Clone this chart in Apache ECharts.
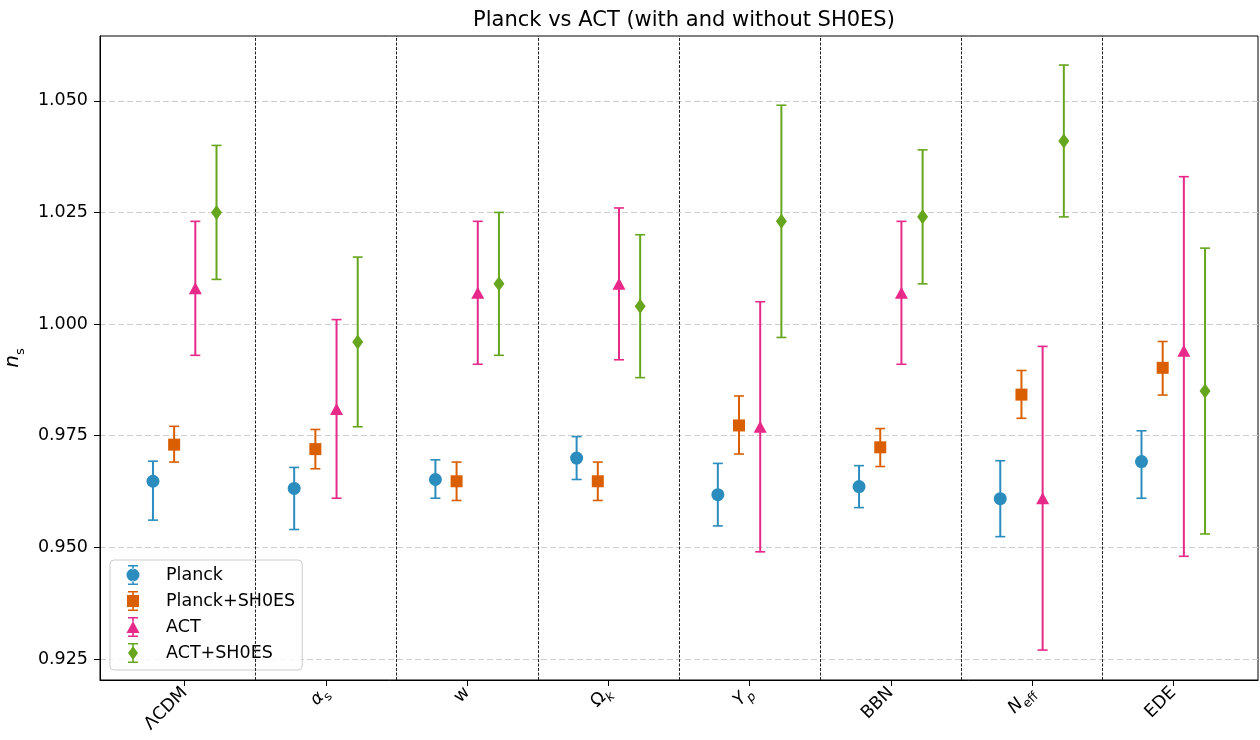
<!DOCTYPE html>
<html>
<head>
<meta charset="utf-8">
<script src="https://cdn.jsdelivr.net/npm/echarts@6/dist/echarts.min.js"></script>
<style>
  html, body { margin: 0; padding: 0; background: #fff; }
  #plot { width: 1260px; height: 740px; }
</style>
</head>
<body>
<div id="plot"></div>
<script>
"use strict";

// Categories (models) and their axis label markup.
var categories = ['ΛCDM', 'α_s', 'w', 'Ω_k', 'Y_p', 'BBN', 'N_eff', 'EDE'];
var tickLabels = ['{t|ΛCDM}', '{it|α}{sub|s}', '{t|w}', '{t|Ω}{subi|k}',
                  '{it|Y}{subi|p}', '{t|BBN}', '{it|N}{sub|eff}', '{t|EDE}'];
var yTicks = [0.925, 0.950, 0.975, 1.000, 1.025, 1.050];

// n_s values with lower / upper error bar ends.
var planckVal = [0.9648, 0.9632, 0.9652, 0.9700, 0.9618, 0.9636, 0.9609, 0.9692];
var planckLo  = [0.9561, 0.9540, 0.9610, 0.9652, 0.9548, 0.9589, 0.9524, 0.9610];
var planckHi  = [0.9693, 0.9679, 0.9696, 0.9748, 0.9688, 0.9683, 0.9694, 0.9761];

var planckShoesVal = [0.9730, 0.9720, 0.9648, 0.9648, 0.9773, 0.9724, 0.9842, 0.9902];
var planckShoesLo  = [0.9691, 0.9676, 0.9605, 0.9605, 0.9709, 0.9681, 0.9789, 0.9841];
var planckShoesHi  = [0.9771, 0.9764, 0.9691, 0.9691, 0.9839, 0.9766, 0.9896, 0.9961];

var actVal = [1.008, 0.981, 1.007, 1.009, 0.977, 1.007, 0.961, 0.994];
var actLo  = [0.993, 0.961, 0.991, 0.992, 0.949, 0.991, 0.927, 0.948];
var actHi  = [1.023, 1.001, 1.023, 1.026, 1.005, 1.023, 0.995, 1.033];

var actShoesVal = [1.025, 0.996, 1.009, 1.004, 1.023, 1.024, 1.041, 0.985];
var actShoesLo  = [1.010, 0.977, 0.993, 0.988, 0.997, 1.009, 1.024, 0.953];
var actShoesHi  = [1.040, 1.015, 1.025, 1.020, 1.049, 1.039, 1.058, 1.017];

// Legend handles: error bar with caps plus the marker, drawn in a 34x20 box
// (two tiny dots pin the box so the handle sits left of centre).
var capsAndBar = 'M8,0h10v1.6h-10zM8,18.4h10v1.6h-10zM12.2,0h1.6v4.5h-1.6zM12.2,15.5h1.6v4.5h-1.6z';
var pins = 'M0,10h0.05v0.05h-0.05zM33.95,10h0.05v0.05h-0.05z';

var groups = [
  { name: 'Planck', val: planckVal, lo: planckLo, hi: planckHi, color: '#2b8cbe',
    symbol: 'circle', size: 13, offset: -0.225,
    icon: 'path://' + capsAndBar + 'M6.5,10a6.5,6.5 0 1,0 13,0a6.5,6.5 0 1,0 -13,0z' + pins },
  { name: 'Planck+SH0ES', val: planckShoesVal, lo: planckShoesLo, hi: planckShoesHi, color: '#d95f02',
    symbol: 'rect', size: 12, offset: -0.075,
    icon: 'path://' + capsAndBar + 'M7,4h12v12h-12z' + pins },
  { name: 'ACT', val: actVal, lo: actLo, hi: actHi, color: '#e7298a',
    symbol: 'triangle', size: [13, 12], offset: 0.075,
    icon: 'path://' + capsAndBar + 'M13,4L19.5,16L6.5,16z' + pins },
  { name: 'ACT+SH0ES', val: actShoesVal, lo: actShoesLo, hi: actShoesHi, color: '#66a61e',
    symbol: 'diamond', size: [11, 15], offset: 0.225,
    icon: 'path://' + capsAndBar + 'M13,3L18,10L13,17L8,10z' + pins }
];

var fontFamily = 'DejaVu Sans';
var chart = echarts.init(document.getElementById('plot'), null, { renderer: 'canvas' });

function errorBarRenderer(color) {
  return function (params, api) {
    var top = api.coord([api.value(0), api.value(2)]);
    var bottom = api.coord([api.value(0), api.value(1)]);
    var x = top[0];
    var cap = 5;
    return {
      type: 'group',
      children: [
        { type: 'line', shape: { x1: x, y1: top[1], x2: x, y2: bottom[1] }, style: { stroke: color, lineWidth: 2 } },
        { type: 'line', shape: { x1: x - cap, y1: top[1], x2: x + cap, y2: top[1] }, style: { stroke: color, lineWidth: 1.6 } },
        { type: 'line', shape: { x1: x - cap, y1: bottom[1], x2: x + cap, y2: bottom[1] }, style: { stroke: color, lineWidth: 1.6 } }
      ]
    };
  };
}

var series = [];
groups.forEach(function (g, gi) {
  var barData = g.val.map(function (v, i) { return [i + g.offset, g.lo[i], g.hi[i]]; });
  var pointData = g.val.map(function (v, i) { return [i + g.offset, v]; });
  var bars = {
    name: g.name,
    type: 'custom',
    renderItem: errorBarRenderer(g.color),
    itemStyle: { color: g.color },
    encode: { x: 0, y: [1, 2] },
    data: barData,
    z: 3,
    silent: true
  };
  if (gi === 0) {
    // dotted separators between the model groups
    bars.markLine = {
      symbol: 'none',
      silent: true,
      label: { show: false },
      lineStyle: { color: '#222', type: [3, 1.5], width: 1 },
      data: categories.slice(1).map(function (c, i) { return { xAxis: i + 0.5 }; })
    };
  }
  series.push(bars);
  series.push({
    name: g.name,
    type: 'scatter',
    symbol: g.symbol,
    symbolSize: g.size,
    itemStyle: { color: g.color, opacity: 1 },
    data: pointData,
    z: 4,
    silent: true
  });
});

var subStyle = { fontSize: 12.5, fontFamily: fontFamily, color: '#000', verticalAlign: 'bottom', lineHeight: 26 };

var option = {
  animation: false,
  backgroundColor: '#fff',
  textStyle: { fontFamily: fontFamily },
  title: {
    text: 'Planck vs ACT (with and without SH0ES)',
    left: 679,
    textAlign: 'center',
    top: 5,
    textStyle: { fontSize: 21, fontWeight: 'normal', color: '#000', fontFamily: fontFamily }
  },
  legend: {
    orient: 'vertical',
    left: 110,
    top: 560,
    padding: [5, 7, 7, 10],
    itemWidth: 34,
    itemHeight: 20,
    itemGap: 6,
    backgroundColor: 'rgba(255,255,255,0.8)',
    borderColor: '#cccccc',
    borderWidth: 1,
    borderRadius: 4,
    textStyle: { fontSize: 17.5, color: '#000', fontFamily: fontFamily, padding: [0, 0, 0, 7] },
    data: groups.map(function (g) {
      return { name: g.name, icon: g.icon, itemStyle: { color: g.color } };
    })
  },
  grid: {
    left: 100, right: 2, top: 36, bottom: 60,
    show: true, borderColor: '#000', borderWidth: 1,
    outerBoundsMode: 'none'
  },
  xAxis: {
    type: 'value',
    min: -0.6,
    max: 7.6,
    axisLine: { show: true, onZero: false, lineStyle: { color: '#000', width: 1 } },
    axisTick: { show: true, length: 6, lineStyle: { color: '#000' }, customValues: categories.map(function (c, i) { return i; }) },
    splitLine: { show: false },
    axisLabel: {
      customValues: categories.map(function (c, i) { return i; }),
      rotate: 45,
      margin: 10,
      color: '#000',
      fontSize: 17.5,
      fontFamily: fontFamily,
      formatter: function (v) { return tickLabels[Math.round(v)]; },
      rich: {
        t: { fontSize: 17.5, fontFamily: fontFamily, color: '#000' },
        it: { fontSize: 17.5, fontFamily: fontFamily, fontStyle: 'italic', color: '#000' },
        sub: subStyle,
        subi: Object.assign({}, subStyle, { fontStyle: 'italic' })
      }
    }
  },
  yAxis: {
    type: 'value',
    min: 0.9203,
    max: 1.0645,
    name: '{n|n}{s|s}',
    nameLocation: 'middle',
    nameGap: 72,
    nameTextStyle: {
      rich: {
        n: { fontSize: 20, fontStyle: 'italic', fontFamily: fontFamily, color: '#000' },
        s: { fontSize: 13, fontFamily: fontFamily, color: '#000', verticalAlign: 'bottom', lineHeight: 28 }
      }
    },
    axisLine: { show: true, onZero: false, lineStyle: { color: '#000', width: 1 } },
    axisTick: { show: true, length: 6, lineStyle: { color: '#000' }, customValues: yTicks },
    splitLine: { show: true, lineStyle: { color: '#cccccc', type: [6, 3], width: 1 } },
    axisLabel: {
      customValues: yTicks,
      margin: 12,
      color: '#000',
      fontSize: 17.5,
      fontFamily: fontFamily,
      formatter: function (v) { return v.toFixed(3); }
    }
  },
  series: series
};

chart.setOption(option);
</script>
</body>
</html>
